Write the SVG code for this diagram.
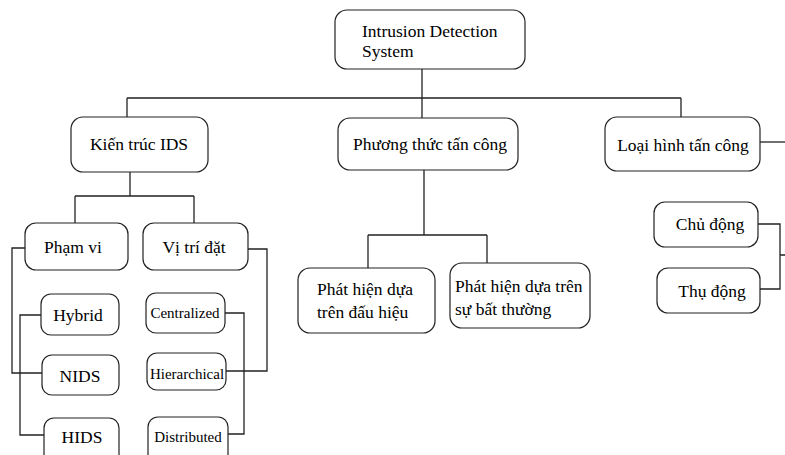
<svg xmlns="http://www.w3.org/2000/svg" width="785" height="455" viewBox="0 0 785 455">
<style>
.box{fill:#fff;stroke:#222;stroke-width:1.2}
.t{font-family:"Liberation Serif","Times New Roman",serif;font-size:17.5px;fill:#000}
.s{font-family:"Liberation Serif","Times New Roman",serif;font-size:15px;fill:#000}
.m{text-anchor:middle}
.c{fill:none;stroke:#222;stroke-width:1.3}
</style>
<rect width="785" height="455" fill="#fff"/>
<g id="connectors">
<path class="c" d="M422,69 V118 M127,98 H681 M127,98 V117 M681,98 V117"/>
<path class="c" d="M130,172 V196 M75,196 H194 M75,196 V223 M194,196 V223"/>
<path class="c" d="M25,248 H12 V373 H42"/>
<path class="c" d="M41,315 H20 V435 H44"/>
<path class="c" d="M248,249 H267 V371 H226"/>
<path class="c" d="M225,313 H244 V434 H228"/>
<path class="c" d="M424,170 V235 M368,235 H487 M368,235 V268 M487,235 V263"/>
<path class="c" d="M760,142 H785"/>
<path class="c" d="M758,224 H780 V289 H760 M780,255 H785"/>
</g>
<g id="ids">
<rect class="box" x="335" y="10" width="190" height="59" rx="12"/>
<text class="t" x="362" y="37">Intrusion Detection</text>
<text class="t" x="362" y="57">System</text>
</g>
<g id="kien-truc">
<rect class="box" x="71" y="117" width="137" height="55" rx="12"/>
<text class="t m" x="139" y="150">Kiến trúc IDS</text>
</g>
<g id="phuong-thuc">
<rect class="box" x="338" y="118" width="180" height="52" rx="12"/>
<text class="t m" x="430" y="150">Phương thức tấn công</text>
</g>
<g id="loai-hinh">
<rect class="box" x="605" y="117" width="155" height="54" rx="12"/>
<text class="t m" x="683" y="151">Loại hình tấn công</text>
</g>
<g id="pham-vi">
<rect class="box" x="25" y="223" width="103" height="47" rx="11"/>
<text class="t m" x="73" y="253">Phạm vi</text>
</g>
<g id="vi-tri">
<rect class="box" x="143" y="223" width="105" height="47" rx="11"/>
<text class="t m" x="194" y="253">Vị trí đặt</text>
</g>
<g id="hybrid">
<rect class="box" x="41" y="294" width="78" height="41" rx="10"/>
<text class="t m" x="78" y="321">Hybrid</text>
</g>
<g id="nids">
<rect class="box" x="42" y="355" width="77" height="40" rx="10"/>
<text class="t m" x="80" y="382">NIDS</text>
</g>
<g id="hids">
<rect class="box" x="44" y="418" width="75" height="50" rx="10"/>
<text class="t m" x="82" y="443">HIDS</text>
</g>
<g id="centralized">
<rect class="box" x="146" y="293" width="79" height="40" rx="10"/>
<text class="s m" x="185" y="318">Centralized</text>
</g>
<g id="hierarchical">
<rect class="box" x="147" y="353" width="79" height="37" rx="10"/>
<text class="s m" x="187" y="379">Hierarchical</text>
</g>
<g id="distributed">
<rect class="box" x="148" y="417" width="80" height="50" rx="10"/>
<text class="s m" x="188" y="442">Distributed</text>
</g>
<g id="dau-hieu">
<rect class="box" x="298" y="268" width="137" height="65" rx="12"/>
<text class="t" x="317" y="295">Phát hiện dựa</text>
<text class="t" x="317" y="318">trên đấu hiệu</text>
</g>
<g id="bat-thuong">
<rect class="box" x="450" y="263" width="140" height="65" rx="12"/>
<text class="t" x="455" y="292">Phát hiện dựa trên</text>
<text class="t" x="455" y="315">sự bất thường</text>
</g>
<g id="chu-dong">
<rect class="box" x="654" y="202" width="104" height="45" rx="11"/>
<text class="t m" x="710" y="230">Chủ động</text>
</g>
<g id="thu-dong">
<rect class="box" x="657" y="268" width="103" height="45" rx="11"/>
<text class="t m" x="712" y="297">Thụ động</text>
</g>
</svg>
